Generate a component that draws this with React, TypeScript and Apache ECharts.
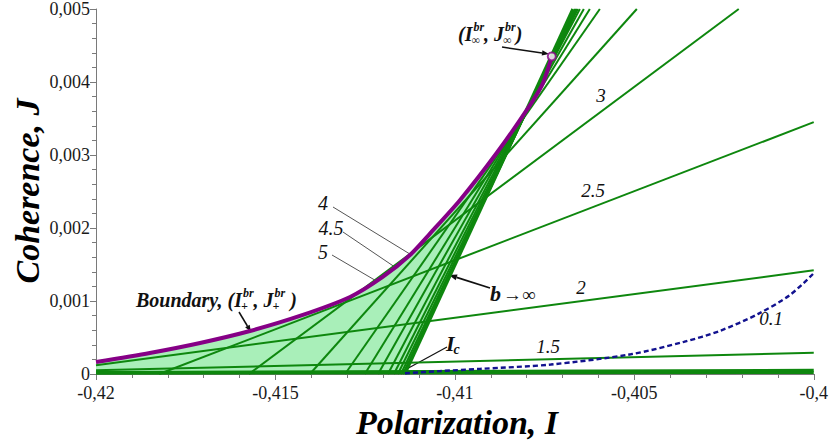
import React, { useEffect, useRef } from 'react';
import * as echarts from 'echarts';

// ---- axes ----
const xMin = -0.42;
const xMax = -0.4;
const xStep = 0.005;
const yMin = 0;
const yMax = 0.005;
const yStep = 0.001;

// ---- boundary curve (I+^br, J+^br) ----
const boundaryI = [-0.42, -0.4185, -0.4171, -0.41571, -0.41432, -0.41292, -0.41201, -0.41125, -0.4107, -0.40986, -0.40883, -0.40791, -0.40755, -0.4073];
const boundaryJ = [0.000164, 0.000288, 0.000425, 0.000589, 0.000795, 0.001055, 0.001329, 0.00163, 0.00192, 0.00238, 0.00303, 0.00368, 0.00398, 0.00435];

// ---- straight-line family, labelled by b ----
const familyB = ['0.5', '1', '1.5', '2', '2.5', '3', '3.5', '4', '4.5', '5', '6', '7', '8', '10', '15', 'inf'];
const familyStartI = [-0.42, -0.42, -0.42, -0.42, -0.41824, -0.41574, -0.41404, -0.41306, -0.41251, -0.41214, -0.411866, -0.411699, -0.411588, -0.411504, -0.411448, -0.411393];
const familyStartJ = [0.00001, 0.00002, 0.00005, 0.00012, 0, 0, 0, 0, 0, 0, 0, 0, 0, 0, 0, 0];
const familyEndI = [-0.4, -0.4, -0.4, -0.4, -0.4, -0.40209, -0.40493, -0.40596, -0.40624, -0.406407, -0.406518, -0.406574, -0.406602, -0.40663, -0.406657, -0.406713];
const familyEndJ = [0.00002, 0.00005, 0.00029, 0.00142, 0.00345, 0.005, 0.005, 0.005, 0.005, 0.005, 0.005, 0.005, 0.005, 0.005, 0.005, 0.005];

// ---- dashed curve b = 0.1 ----
const dashI = [-0.41139, -0.41042, -0.4093, -0.40733, -0.4051, -0.40362, -0.40262, -0.40156, -0.40067, -0.4];
const dashJ = [0.00001, 0.00004, 0.00007, 0.00013, 0.00027, 0.00044, 0.00059, 0.00082, 0.00108, 0.00138];

const GREEN = '#0e870e';
const PURPLE = '#860086';
const FILL = '#a9efb9';
const SERIF = '"Liberation Serif", "Times New Roman", serif';

const fmt = (v: number) => {
  const s = String(Number(v.toFixed(4)));
  return s.replace('.', ',');
};

let measureCtx: CanvasRenderingContext2D | null = null;
function textWidth(t: string, font: string) {
  if (!measureCtx) measureCtx = document.createElement('canvas').getContext('2d');
  measureCtx!.font = font;
  return measureCtx!.measureText(t).width;
}

type Seg = { t?: string; sup?: string; sub?: string };

function mathLabel(x: number, y: number, segs: Seg[], size: number, bold = true): any[] {
  const els: any[] = [];
  const weight = bold ? 'bold' : 'normal';
  const mainFont = `italic ${weight} ${size}px ${SERIF}`;
  const small = Math.round(size * 0.62);
  const smallFont = `italic ${weight} ${small}px ${SERIF}`;
  let cx = x;
  segs.forEach((s) => {
    if (s.t !== undefined) {
      els.push({
        type: 'text', x: cx, y, silent: true,
        style: { text: s.t, font: mainFont, fill: '#111', align: 'left', verticalAlign: 'middle' },
      });
      cx += textWidth(s.t, mainFont);
    } else {
      let w = 0;
      if (s.sup) {
        els.push({
          type: 'text', x: cx + 1, y: y - size * 0.36, silent: true,
          style: { text: s.sup, font: smallFont, fill: '#111', align: 'left', verticalAlign: 'middle' },
        });
        w = Math.max(w, textWidth(s.sup, smallFont) + 1);
      }
      if (s.sub) {
        els.push({
          type: 'text', x: cx - 1, y: y + size * 0.3, silent: true,
          style: { text: s.sub, font: smallFont, fill: '#111', align: 'left', verticalAlign: 'middle' },
        });
        w = Math.max(w, textWidth(s.sub, smallFont) - 1);
      }
      cx += w;
    }
  });
  return els;
}

function arrow(x1: number, y1: number, x2: number, y2: number, color: string, width: number, head: number, lineColor?: string): any[] {
  const dx = x2 - x1;
  const dy = y2 - y1;
  const len = Math.sqrt(dx * dx + dy * dy);
  const ux = dx / len;
  const uy = dy / len;
  const bx = x2 - ux * head;
  const by = y2 - uy * head;
  const hw = head * 0.38;
  return [
    { type: 'line', silent: true, shape: { x1, y1, x2: bx, y2: by }, style: { stroke: lineColor || color, lineWidth: width } },
    {
      type: 'polygon', silent: true,
      shape: { points: [[x2, y2], [bx - uy * hw, by + ux * hw], [bx + uy * hw, by - ux * hw]] },
      style: { fill: color },
    },
  ];
}

function numLabel(t: string, x: number, y: number, size: number) {
  return {
    type: 'text', x, y, silent: true,
    style: { text: t, font: `italic ${size}px ${SERIF}`, fill: '#111', align: 'center', verticalAlign: 'middle' },
  };
}

export default function App() {
  const ref = useRef<HTMLDivElement>(null);

  useEffect(() => {
    if (!ref.current) return;
    const chart = echarts.init(ref.current, undefined, { renderer: 'svg' });

    const fillI = [...boundaryI, familyStartI[familyStartI.length - 1], xMin];
    const fillJ = [...boundaryJ, 0, 0];

    const series: any[] = [];
    series.push({
      type: 'custom',
      silent: true,
      z: 1,
      data: [[fillI[0], fillJ[0]]],
      renderItem: (params: any, api: any) => {
        const pts = fillI.map((v, i) => api.coord([v, fillJ[i]]));
        return { type: 'polygon', shape: { points: pts }, style: { fill: FILL } };
      },
    });

    familyB.forEach((b, i) => {
      const thick = b === 'inf' || b === '0.5' || b === '1';
      series.push({
        type: 'line',
        name: 'b=' + b,
        z: 3,
        symbol: 'none',
        silent: true,
        lineStyle: { color: GREEN, width: thick ? 3 : 2 },
        data: [[familyStartI[i], familyStartJ[i]], [familyEndI[i], familyEndJ[i]]],
      });
    });

    series.push({
      type: 'line',
      name: 'b=0.1',
      z: 4,
      symbol: 'none',
      smooth: 0.3,
      silent: true,
      lineStyle: { color: '#12128f', width: 2.4, type: [5, 3] },
      data: dashI.map((v, i) => [v, dashJ[i]]),
    });

    series.push({
      type: 'line',
      name: 'Boundary',
      z: 5,
      symbol: 'none',
      smooth: 0.25,
      silent: true,
      lineStyle: { color: PURPLE, width: 4 },
      data: boundaryI.map((v, i) => [v, boundaryJ[i]]),
    });

    series.push({
      type: 'scatter',
      name: 'inf point',
      z: 6,
      symbol: 'circle',
      symbolSize: 8,
      silent: true,
      itemStyle: { color: '#ffffff', borderColor: PURPLE, borderWidth: 2 },
      data: [[boundaryI[boundaryI.length - 1], boundaryJ[boundaryJ.length - 1]]],
    });

    const graphic: any[] = [
      // axis titles
      {
        type: 'text', x: 457, y: 422, silent: true,
        style: { text: 'Polarization, I', font: `italic bold 34px ${SERIF}`, fill: '#000', align: 'center', verticalAlign: 'middle' },
      },
      {
        type: 'text', x: 27, y: 191, rotation: Math.PI / 2, silent: true,
        style: { text: 'Coherence, J', font: `italic bold 34px ${SERIF}`, fill: '#000', align: 'center', verticalAlign: 'middle' },
      },
      numLabel('3', 601, 95, 19),
      numLabel('2.5', 593, 190, 19),
      numLabel('2', 581, 287, 19),
      numLabel('1.5', 548, 346, 19),
      numLabel('0.1', 771, 318, 19),
      numLabel('4', 323, 203, 20),
      numLabel('4.5', 331, 228, 20),
      numLabel('5', 323, 252, 20),
      ...arrow(333, 207, 418, 259, '#111', 1, 6, '#555'),
      ...arrow(343, 232, 417, 282, '#111', 1, 6, '#555'),
      ...arrow(332, 255, 414, 303, '#111', 1, 6, '#555'),
      ...arrow(239, 312, 251, 332, '#111', 1.5, 7),
      ...arrow(502, 47, 549, 54, '#111', 1.5, 7),
      ...arrow(490, 288, 449, 275, '#111', 1.8, 8),
      { type: 'line', silent: true, shape: { x1: 447, y1: 347, x2: 403, y2: 371 }, style: { stroke: '#111', lineWidth: 1.2 } },
      ...mathLabel(136, 300, [{ t: 'Boundary, (I' }, { sup: 'br', sub: '+' }, { t: ', J' }, { sup: 'br', sub: '+' }, { t: ' )' }], 20),
      ...mathLabel(458, 34, [{ t: '(I' }, { sup: 'br', sub: '∞' }, { t: ', J' }, { sup: 'br', sub: '∞' }, { t: ')' }], 20),
      ...mathLabel(446, 343, [{ t: 'I' }, { sub: 'c' }], 22),
      {
        type: 'text', x: 490, y: 293, silent: true,
        style: { text: 'b', font: `italic bold 22px ${SERIF}`, fill: '#111', align: 'left', verticalAlign: 'middle' },
      },
      {
        type: 'text', x: 503, y: 294, silent: true,
        style: { text: '→∞', font: `19px ${SERIF}`, fill: '#111', align: 'left', verticalAlign: 'middle' },
      },
    ];

    chart.setOption({
      animation: false,
      backgroundColor: '#ffffff',
      grid: { left: 96, right: 17, top: 9, bottom: 68, containLabel: false },
      xAxis: {
        type: 'value',
        min: xMin,
        max: xMax,
        interval: xStep,
        axisLine: { onZero: false, lineStyle: { color: '#7a7a7a', width: 1 } },
        axisTick: { length: 6, lineStyle: { color: '#7a7a7a' } },
        minorTick: { show: true, splitNumber: 5, length: 4, lineStyle: { color: '#7a7a7a' } },
        splitLine: { show: false },
        axisLabel: { formatter: fmt, color: '#1a1a1a', fontFamily: SERIF, fontSize: 18, margin: 10 },
      },
      yAxis: {
        type: 'value',
        min: yMin,
        max: yMax,
        interval: yStep,
        axisLine: { show: true, lineStyle: { color: '#7a7a7a', width: 1 } },
        axisTick: { show: true, length: 6, lineStyle: { color: '#7a7a7a' } },
        minorTick: { show: true, splitNumber: 5, length: 4, lineStyle: { color: '#7a7a7a' } },
        splitLine: { show: false },
        axisLabel: { formatter: fmt, color: '#1a1a1a', fontFamily: SERIF, fontSize: 18, margin: 6 },
      },
      series,
      graphic,
    });

    return () => chart.dispose();
  }, []);

  return <div ref={ref} style={{ position: 'absolute', left: 0, top: 0, width: 831, height: 442 }} />;
}
